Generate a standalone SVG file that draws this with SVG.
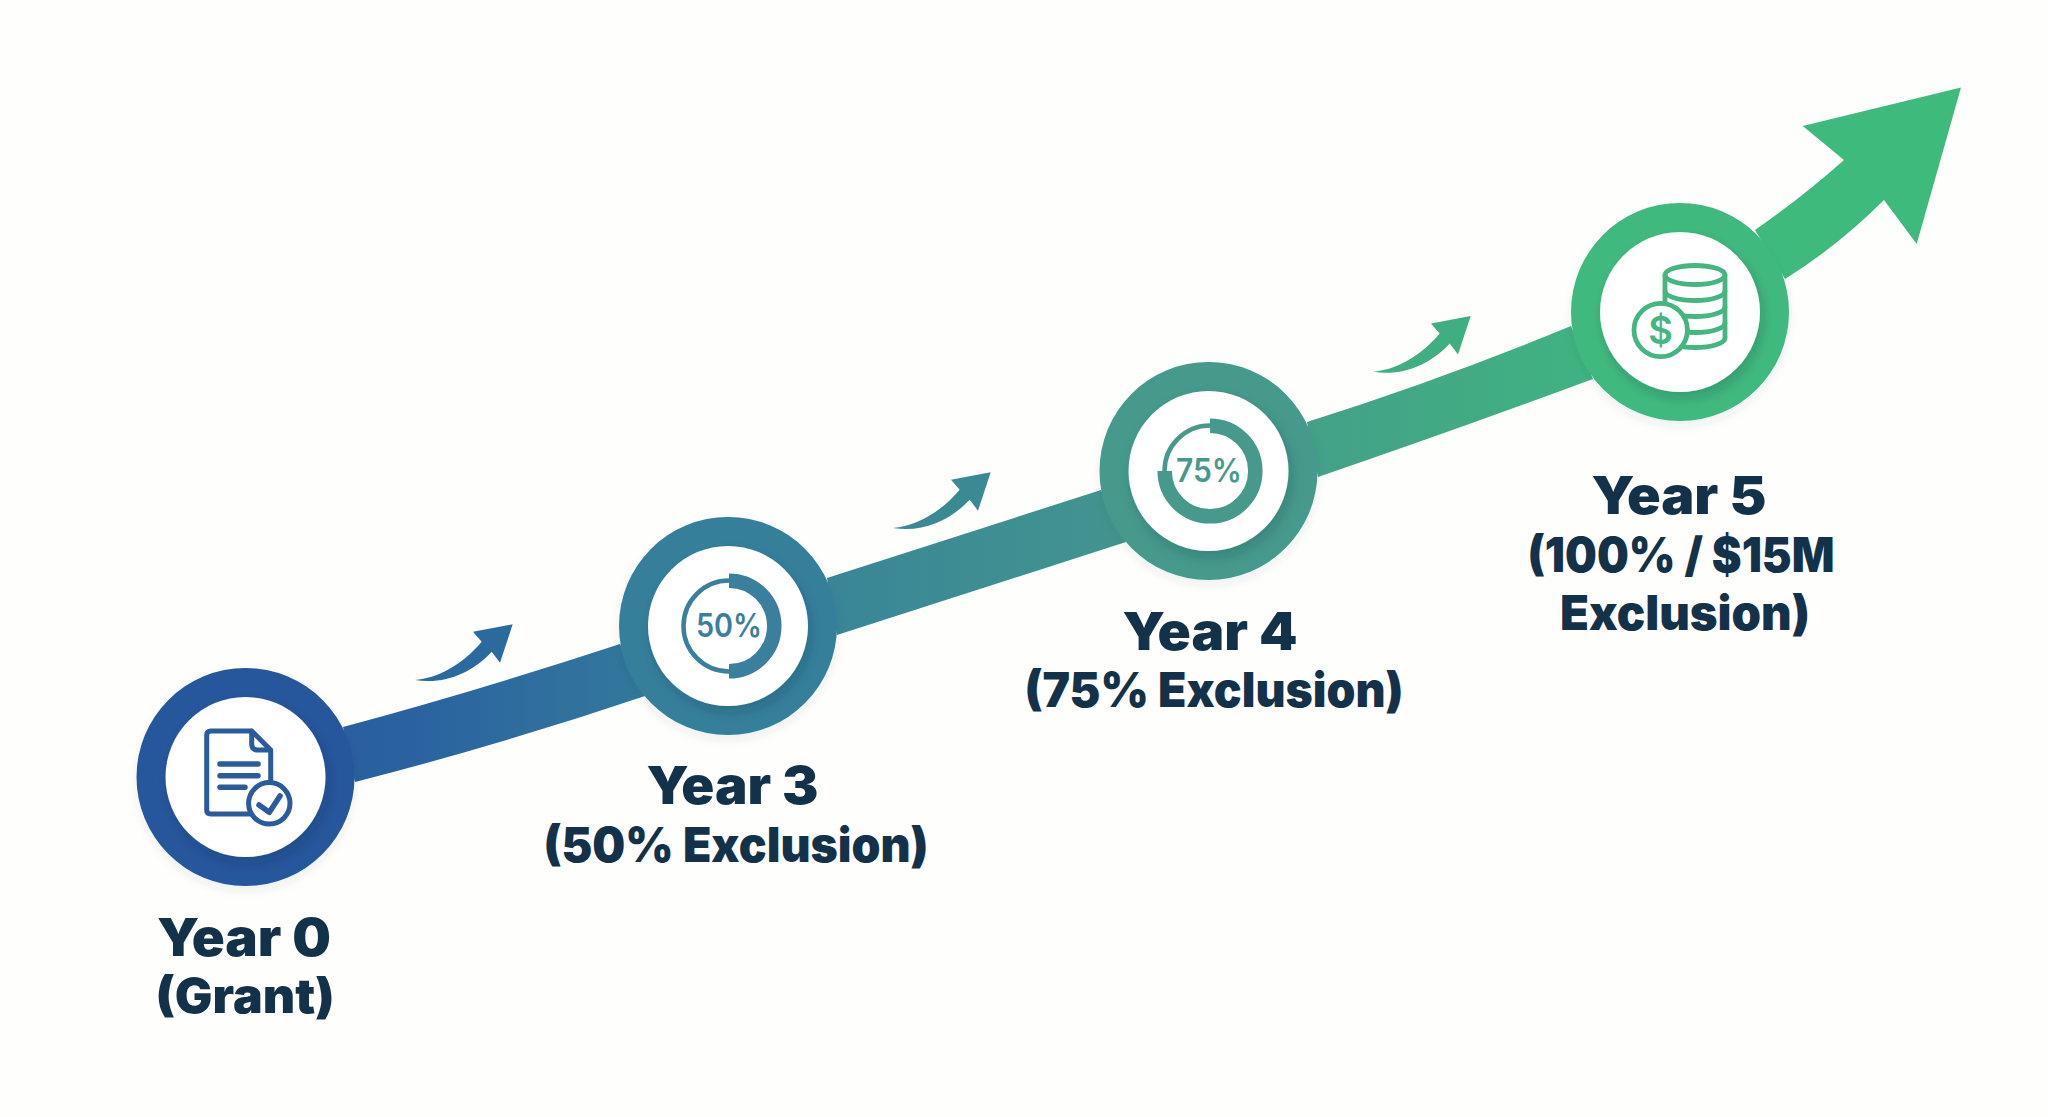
<svg xmlns="http://www.w3.org/2000/svg" width="2048" height="1117" viewBox="0 0 2048 1117">
  <defs>
    <linearGradient id="flow" gradientUnits="userSpaceOnUse" x1="136" y1="0" x2="1960" y2="0">
      <stop offset="0" stop-color="#27569c"/>
      <stop offset="0.15" stop-color="#2a62a0"/>
      <stop offset="0.325" stop-color="#36809b"/>
      <stop offset="0.588" stop-color="#449a8b"/>
      <stop offset="0.847" stop-color="#3fb97e"/>
      <stop offset="1" stop-color="#3dbb7b"/>
    </linearGradient>
    <filter id="soft" x="-20%" y="-20%" width="140%" height="140%">
      <feDropShadow dx="0" dy="5" stdDeviation="5" flood-color="#1b3344" flood-opacity="0.07"/>
    </filter>
    <filter id="inset" x="-20%" y="-20%" width="140%" height="140%">
      <feDropShadow dx="3" dy="6" stdDeviation="6" flood-color="#0e2b33" flood-opacity="0.2"/>
    </filter>
    <path id="mini" d="M0 0C22-2 46-14 66.700-38.300L58-48.300 97.700-55.700 85-17.300 76.700-28.300C58-8 30 5 0 0Z"/>
    <style>
      .bg{fill:#fefefd}
      .inner{fill:#fff;filter:url(#inset)}
      .ring{filter:url(#soft)}
      .t{font-family:"Inter","Liberation Sans",sans-serif;font-weight:900;fill:#13324a;text-anchor:middle}
      .y{font-size:52px}
      .s{font-size:48px}
      .pct{font-family:"Inter","Liberation Sans",sans-serif;font-weight:600;font-size:32px;text-anchor:middle}
      .ic{fill:none;stroke-linecap:round;stroke-linejoin:round}
    </style>
  </defs>
  <rect class="bg" width="2048" height="1117"/>

  <g id="connectors">
    <path fill="url(#flow)" d="M343 727Q480 690 620 644L645 696Q500 745 355 782Z"/>
    <path fill="url(#flow)" d="M827 578L1101 490L1126 542L837 635Z"/>
    <path fill="url(#flow)" d="M1307 422Q1440 380 1571 326L1593 379Q1450 432 1318 477Z"/>
    <path fill="url(#flow)" d="M1755 230Q1800 199 1844 160L1802.700 126L1961 87.500L1916.700 244L1884 200Q1838 246 1785 279Z"/>
    <use href="#mini" transform="translate(415 680)" fill="#2a6a9e"/>
    <use href="#mini" transform="translate(893 528)" fill="#3a8a94"/>
    <use href="#mini" transform="translate(1373 371.700)" fill="#3fae80"/>
  </g>

  <g id="node-year0">
    <circle class="ring" cx="245.500" cy="777" r="109" fill="#28579c"/>
    <circle class="inner" cx="245.500" cy="777" r="80"/>
    <g class="ic" stroke="#2a5b9c">
      <path stroke-width="5" d="M251.700 731H211Q206.700 731 206.700 735V810Q206.700 814 211 814H250M270.700 785V750L251.700 731V744Q251.700 750 258 750H270.700"/>
      <path stroke-width="5.500" d="M220 764H258M220 775.700H258M220 787.300H245"/>
      <circle cx="269.300" cy="803.300" r="20.700" fill="#fff" stroke-width="5"/>
      <path stroke-width="5.500" d="M259 805L269.300 812.300L280 796"/>
    </g>
    <text class="t y" x="244" y="955.500" textLength="174" lengthAdjust="spacingAndGlyphs">Year 0</text>
    <text class="t s" x="245" y="1013" textLength="179" lengthAdjust="spacingAndGlyphs">(Grant)</text>
  </g>

  <g id="node-year3">
    <circle class="ring" cx="728" cy="626" r="109" fill="#367f9b"/>
    <circle class="inner" cx="728" cy="626" r="80"/>
    <g fill="none" stroke="#3a7f9d">
      <path stroke-width="4.500" d="M729 580.500A45.500 45.500 0 0 0 729 671.500"/>
      <path stroke-width="14.500" d="M729 580.700A45.300 45.300 0 0 1 729 671.300"/>
    </g>
    <text class="pct" x="729" y="637" fill="#3a7f9d" textLength="66" lengthAdjust="spacingAndGlyphs">50%</text>
    <text class="t y" x="732.500" y="803.500" textLength="172" lengthAdjust="spacingAndGlyphs">Year 3</text>
    <text class="t s" x="736" y="862" textLength="385" lengthAdjust="spacingAndGlyphs">(50% Exclusion)</text>
  </g>

  <g id="node-year4">
    <circle class="ring" cx="1208.500" cy="471" r="109" fill="#449a8b"/>
    <circle class="inner" cx="1208.500" cy="471" r="80"/>
    <g fill="none" stroke="#46998b">
      <path stroke-width="4.500" d="M1164.500 471A45.500 45.500 0 0 1 1210 425.500"/>
      <path stroke-width="14.500" d="M1210 425.700A45.300 45.300 0 1 1 1164.700 471"/>
    </g>
    <text class="pct" x="1209" y="482" fill="#46998b" textLength="66" lengthAdjust="spacingAndGlyphs">75%</text>
    <text class="t y" x="1210" y="649.500" textLength="175" lengthAdjust="spacingAndGlyphs">Year 4</text>
    <text class="t s" x="1214" y="706.500" textLength="379" lengthAdjust="spacingAndGlyphs">(75% Exclusion)</text>
  </g>

  <g id="node-year5">
    <circle class="ring" cx="1680" cy="312" r="109" fill="#3fb97e"/>
    <circle class="inner" cx="1680" cy="312" r="80"/>
    <g class="ic" stroke="#44b67f" stroke-width="4.800">
      <ellipse cx="1695" cy="275" rx="30" ry="9.500"/>
      <path d="M1665 275V338M1725 275V338"/>
      <path d="M1665 291A30 9.500 0 0 0 1725 291M1665 307A30 9.500 0 0 0 1725 307M1665 323A30 9.500 0 0 0 1725 323M1665 338A30 9.500 0 0 0 1725 338"/>
      <circle cx="1660.700" cy="330" r="26.700" fill="#fff"/>
    </g>
    <text x="1660.700" y="343.500" font-family="Inter, 'Liberation Sans', sans-serif" font-weight="600" font-size="38" fill="#44b67f" text-anchor="middle">$</text>
    <text class="t y" x="1679" y="513.500" textLength="175" lengthAdjust="spacingAndGlyphs">Year 5</text>
    <text class="t s" x="1681" y="571.500" textLength="307" lengthAdjust="spacingAndGlyphs">(100% / $15M</text>
    <text class="t s" x="1685" y="629.500" textLength="250" lengthAdjust="spacingAndGlyphs">Exclusion)</text>
  </g>
</svg>
